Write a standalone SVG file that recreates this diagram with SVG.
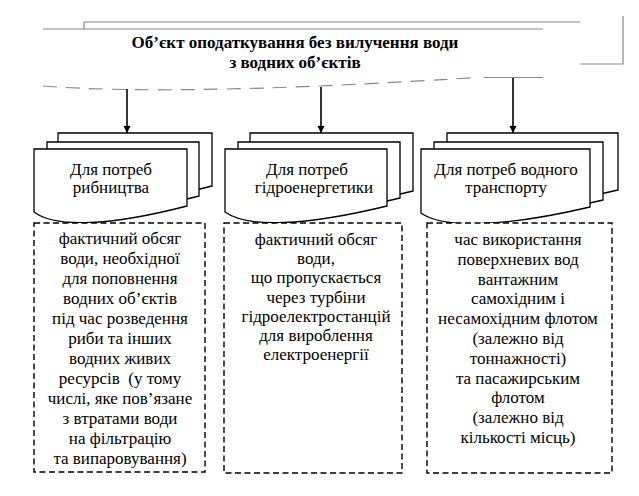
<svg xmlns="http://www.w3.org/2000/svg" width="639" height="496" viewBox="0 0 639 496">
<defs>
<marker id="ah" viewBox="0 0 10 10" refX="10" refY="5" markerWidth="7" markerHeight="8" markerUnits="userSpaceOnUse" orient="auto">
<path d="M0,0 L10,5 L0,10 Z" fill="#000"/>
</marker>
<style>
.doc{fill:#fff;stroke:#000;stroke-width:1.3}
.gray{fill:none;stroke:#888;stroke-width:1.2}
.box{fill:#fff;stroke:#000;stroke-width:1.4;stroke-dasharray:6 3.5}
.t{font-size:17px;fill:#000;text-anchor:middle}
.title{font-size:17px;font-weight:bold;fill:#000;text-anchor:middle}
.arr{stroke:#000;stroke-width:1.6;fill:none}
</style>
</defs>
<rect width="639" height="496" fill="#fff"/>

<g id="top" font-family="'Liberation Serif', 'DejaVu Serif', serif">
<polyline class="gray" points="623,16 623,64 580,64"/>
<polyline class="gray" points="84,29 84,22 580,22"/>
<line class="gray" x1="43" y1="29" x2="543" y2="29"/>
<path class="gray" d="M43,86 C120,92 250,92 476,77.5" stroke-dasharray="14 9"/>
<line class="gray" x1="484" y1="77.5" x2="543" y2="77.5"/>
<text class="title" x="295" y="48">Об’єкт оподаткування без вилучення води</text>
<text class="title" x="295" y="68">з водних об’єктів</text>
</g>

<g id="connectors">
<line class="arr" x1="127" y1="89" x2="127" y2="133" marker-end="url(#ah)"/>
<line class="arr" x1="321" y1="87" x2="321" y2="133" marker-end="url(#ah)"/>
<line class="arr" x1="513" y1="78" x2="513" y2="133" marker-end="url(#ah)"/>
</g>

<g id="doc1" font-family="'Liberation Serif', 'DejaVu Serif', serif">
<path class="doc" d="M58,133 H212 V186 C135,206 79,208 58,192 Z"/>
<path class="doc" d="M47,142 H199 V196 C122,216 68,218 47,202 Z"/>
<path class="doc" d="M34,149 H187 V206 C110,226 55,228 34,212 Z"/>
<text class="t" x="111" y="175">Для потреб</text>
<text class="t" x="111" y="193">рибництва</text>
</g>

<g id="doc2" font-family="'Liberation Serif', 'DejaVu Serif', serif">
<path class="doc" d="M250,133 H413 V191 C331,211 272,213 250,197 Z"/>
<path class="doc" d="M238,142 H400 V198 C318,218 260,220 238,204 Z"/>
<path class="doc" d="M225,149 H387 V206 C305,226 247,228 225,212 Z"/>
<text class="t" x="307" y="175">Для потреб</text>
<text class="t" x="314" y="193">гідроенергетики</text>
</g>

<g id="doc3" font-family="'Liberation Serif', 'DejaVu Serif', serif">
<path class="doc" d="M447,133 H618 V190 C533,210 469,212 447,196 Z"/>
<path class="doc" d="M434,142 H603 V200 C518,220 456,222 434,206 Z"/>
<path class="doc" d="M421,149 H590 V207 C505,227 443,229 421,213 Z"/>
<text class="t" x="506" y="175">Для потреб водного</text>
<text class="t" x="506" y="193">транспорту</text>
</g>

<g id="box1" font-family="'Liberation Serif', 'DejaVu Serif', serif">
<rect class="box" x="34" y="223" width="171" height="249"/>
<text class="t" x="120" y="244">фактичний обсяг</text>
<text class="t" x="120" y="264">води, необхідної</text>
<text class="t" x="120" y="284">для поповнення</text>
<text class="t" x="120" y="304">водних об’єктів</text>
<text class="t" x="120" y="324">під час розведення</text>
<text class="t" x="120" y="344">риби та інших</text>
<text class="t" x="120" y="364">водних живих</text>
<text class="t" x="120" y="384" xml:space="preserve">ресурсів  (у тому</text>
<text class="t" x="120" y="404">числі, яке пов’язане</text>
<text class="t" x="120" y="424">з втратами води</text>
<text class="t" x="120" y="444">на фільтрацію</text>
<text class="t" x="120" y="464">та випаровування)</text>
</g>

<g id="box2" font-family="'Liberation Serif', 'DejaVu Serif', serif">
<rect class="box" x="224" y="223" width="178" height="250"/>
<text class="t" x="316" y="245">фактичний обсяг</text>
<text class="t" x="316" y="264.2">води,</text>
<text class="t" x="316" y="283.4">що пропускається</text>
<text class="t" x="316" y="302.6">через турбіни</text>
<text class="t" x="316" y="321.8">гідроелектростанцій</text>
<text class="t" x="316" y="341">для вироблення</text>
<text class="t" x="316" y="360.2">електроенергії</text>
</g>

<g id="box3" font-family="'Liberation Serif', 'DejaVu Serif', serif">
<rect class="box" x="427" y="223" width="185" height="250"/>
<text class="t" x="518" y="245">час використання</text>
<text class="t" x="518" y="264.8">поверхневих вод</text>
<text class="t" x="518" y="284.6">вантажним</text>
<text class="t" x="518" y="304.4">самохідним і</text>
<text class="t" x="518" y="324.2">несамохідним флотом</text>
<text class="t" x="518" y="344">(залежно від</text>
<text class="t" x="518" y="363.8">тоннажності)</text>
<text class="t" x="518" y="383.6">та пасажирським</text>
<text class="t" x="518" y="403.4">флотом</text>
<text class="t" x="518" y="423.2">(залежно від</text>
<text class="t" x="518" y="443">кількості місць)</text>
</g>
</svg>
